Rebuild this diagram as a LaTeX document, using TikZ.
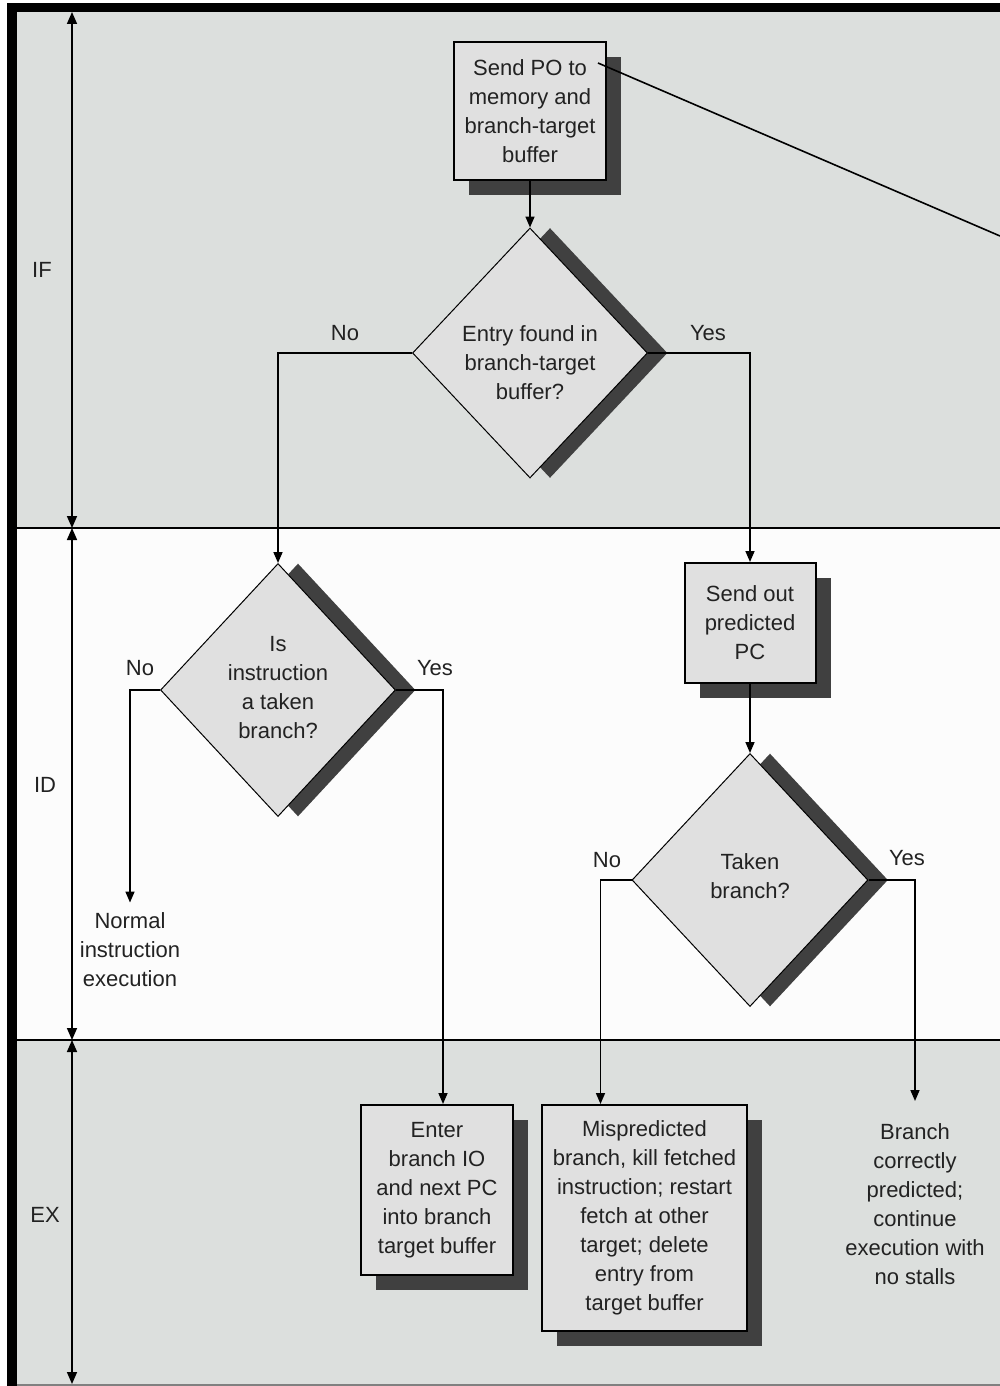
\documentclass[tikz,border=0pt]{standalone}
\usepackage{fontspec}
\setmainfont{Liberation Sans}
\usetikzlibrary{arrows.meta,shapes.geometric,shadows,calc}

\definecolor{bandgray}{RGB}{220,223,221}
\definecolor{boxfill}{RGB}{224,224,224}
\definecolor{shade}{RGB}{64,64,64}
\definecolor{ink}{RGB}{34,34,34}

\begin{document}
\begin{tikzpicture}[x=0.5pt,y=-0.5pt,
  every node/.style={font=\fontsize{11}{14.5}\selectfont, text=ink},
  procbox/.style={rectangle, draw=black, line width=1pt, fill=boxfill,
    inner sep=0pt, align=center,
    drop shadow={shadow xshift=7.5pt, shadow yshift=-7.5pt, fill=shade, opacity=1}},
  decision/.style={diamond, draw=black, line width=0.5pt, fill=boxfill,
    inner sep=0pt,
    drop shadow={shadow xshift=10pt, shadow yshift=0pt, fill=shade, opacity=1}},
  note/.style={align=center, inner sep=0pt},
  flow/.style={line width=0.8pt, -{Triangle[length=5.5pt,width=4.5pt]}},
  axis/.style={line width=0.8pt,
    {Triangle[length=6pt,width=5pt]}-{Triangle[length=6pt,width=5pt]}},
]
\useasboundingbox (0,0) rectangle (1000,1386);

% stage bands and frame
\fill[white] (0,0) rectangle (1000,1386);
\fill[bandgray] (17,12) rectangle (1000,528);
\fill[white!98!gray] (17,528) rectangle (1000,1040);
\fill[bandgray] (17,1040) rectangle (1000,1384);
\fill[black] (7,3) rectangle (17,1386);
\fill[black] (7,3) rectangle (1000,12);
\draw[line width=0.8pt] (17,528) -- (1000,528);
\draw[line width=0.8pt] (17,1040) -- (1000,1040);
\draw[gray, line width=0.8pt] (17,1385) -- (1000,1385);

% stage extent arrows
\coordinate (ax0) at (72,12);
\coordinate (ax1) at (72,528);
\coordinate (ax2) at (72,1040);
\coordinate (ax3) at (72,1384);
\draw[axis] (ax0) -- (ax1);
\draw[axis] (ax1) -- (ax2);
\draw[axis] (ax2) -- (ax3);
\node (stIF) at (42,270) {IF};
\node (stID) at (45,785) {ID};
\node (stEX) at (45,1215) {EX};

% IF stage
\node[procbox, minimum width=76pt, minimum height=69pt] (sendpo) at (530,111)
  {Send PO to\\memory and\\branch-target\\buffer};
\node[decision, minimum width=117.5pt, minimum height=125pt] (d1) at (530,353) {};
\node[note] (d1t) at (530,363) {Entry found in\\branch-target\\buffer?};

% ID stage
\node[decision, minimum width=117.5pt, minimum height=126.5pt] (d2) at (278,690) {};
\node[note] (d2t) at (278,688) {Is\\instruction\\a taken\\branch?};
\node[procbox, minimum width=65.5pt, minimum height=60pt] (predpc) at (750,623)
  {Send out\\predicted\\PC};
\node[decision, minimum width=118pt, minimum height=126.5pt] (d3) at (750,880) {};
\node[note] (d3t) at (750,876) {Taken\\branch?};
\node[note] (normal) at (130,950) {Normal\\instruction\\execution};

% EX stage
\node[procbox, minimum width=76pt, minimum height=85pt] (enter) at (437,1190)
  {Enter\\branch IO\\and next PC\\into branch\\target buffer};
\node[procbox, minimum width=102.5pt, minimum height=113pt] (mispred) at (644.5,1218)
  {Mispredicted\\branch, kill fetched\\instruction; restart\\fetch at other\\target; delete\\entry from\\target buffer};
\node[note] (correct) at (915,1204)
  {Branch\\correctly\\predicted;\\continue\\execution with\\no stalls};

% branch labels
\node (no1) at (345,333) {No};
\node (yes1) at (708,333) {Yes};
\node (no2) at (140,668) {No};
\node (yes2) at (435,668) {Yes};
\node (no3) at (607,860) {No};
\node (yes3) at (907,858) {Yes};

% flow
\draw[flow] (sendpo) -- (d1);
\draw[flow] (d1.west) -| (d2.north);
\draw[flow] (d1.east) -| (predpc.north);
\draw[flow] (predpc) -- (d3);
\draw[flow] (d2.west) -| ([yshift=5pt]normal.north);
\draw[flow] (d2.east) -| ([xshift=3pt]enter.north);
\draw[flow] (d3.west) -| ([xshift=-22pt]mispred.north);
\draw[flow] (d3.east) -| ([yshift=11pt]correct.north);

% leader line out of the first box
\coordinate (lead0) at (598,63);
\coordinate (lead1) at (1000,236);
\draw[line width=0.8pt] (lead0) -- (lead1);
\end{tikzpicture}
\end{document}
